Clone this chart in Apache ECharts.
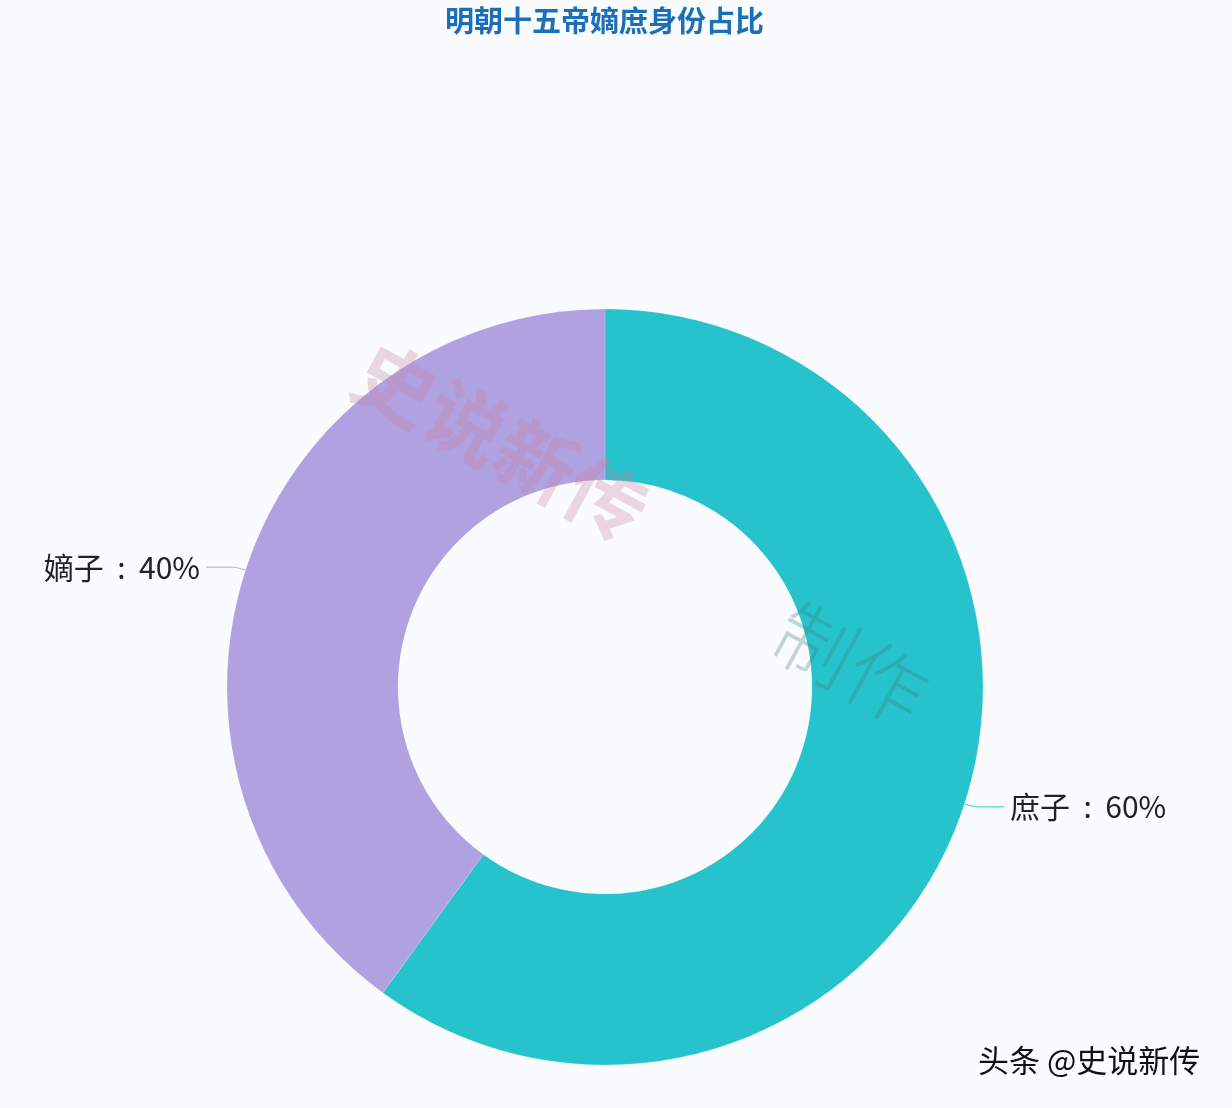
<!DOCTYPE html>
<html>
<head>
<meta charset="utf-8">
<script src="https://cdn.jsdelivr.net/npm/echarts@6/dist/echarts.min.js"></script>
<style>
html,body{margin:0;padding:0;background:#fafbfe;}
#c{width:1232px;height:1108px;}
</style>
</head>
<body>
<div id="c"></div>
<script>
const titleText = '明朝十五帝嫡庶身份占比';
const categories = ['庶子', '嫡子'];
const values = [60, 40];
const colors = ['#27c3cc', '#b0a1e0'];

const chart = echarts.init(document.getElementById('c'));
chart.setOption({
  backgroundColor: '#fafbfe',
  title: {
    text: titleText,
    left: 440,
    top: 1,
    textStyle: { color: '#1b6fb9', fontSize: 29, fontWeight: 'bold', fontFamily: 'Noto Sans CJK SC' }
  },
  color: colors,
  series: [{
    type: 'pie',
    center: [605, 687],
    radius: [207, 378],
    startAngle: 90,
    clockwise: true,
    avoidLabelOverlap: false,
    data: categories.map((c, i) => ({ name: c, value: values[i] })),
    label: {
      formatter: '{b}  :  {d}%',
      color: '#222',
      fontSize: 30,
      fontFamily: 'Noto Sans CJK SC',
      distanceToLabelLine: 6
    },
    labelLine: {
      length: 10,
      length2: 30,
      smooth: 0.3,
      lineStyle: { width: 1 }
    },
    itemStyle: { borderColor: 'rgba(255,255,255,0.3)', borderWidth: 0.5 }
  }],
  graphic: [
    {
      type: 'text', x: 380, y: 330, rotation: -0.5, z: 100,
      style: { text: '史说新传', font: 'bold 80px "Noto Sans CJK SC"', fill: 'rgba(200,130,160,0.3)', letterSpacing: 20 }
    },
    {
      type: 'text', x: 800, y: 590, rotation: -0.5, z: 100,
      style: { text: '制作', font: '300 80px "Noto Sans CJK SC"', fill: 'rgba(60,120,120,0.3)', letterSpacing: 20 }
    },
    {
      type: 'text', x: 978, y: 1045, z: 100,
      style: { text: '头条 @史说新传', font: '31px "Noto Sans CJK SC"', fill: '#111' }
    }
  ]
});
</script>
</body>
</html>
